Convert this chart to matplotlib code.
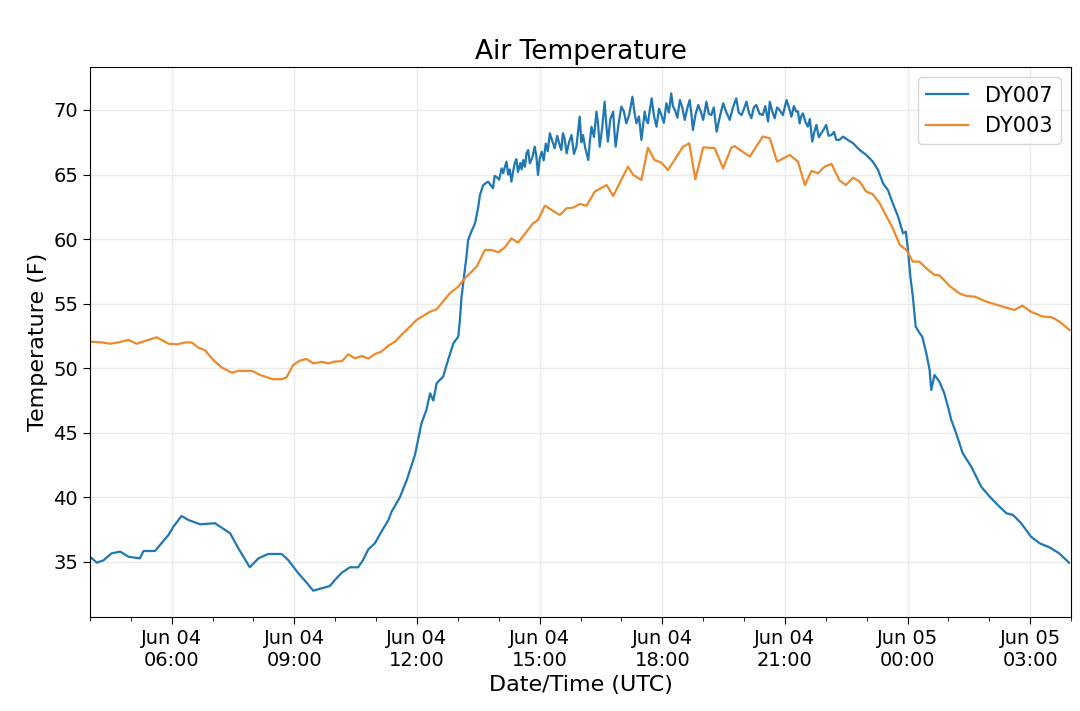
import matplotlib
matplotlib.use("Agg")
import matplotlib.pyplot as plt
import matplotlib.dates as mdates
import pandas as pd

# hours since Jun 04 00:00 UTC, temperature in F
dy007_hours = [
    4.00, 4.17, 4.33, 4.53, 4.74, 4.94, 5.22, 5.31, 5.59, 5.92, 6.04, 6.24,
    6.41, 6.69, 7.06, 7.43, 7.63, 7.91, 8.12, 8.36, 8.69, 8.85, 9.10, 9.30,
    9.46, 9.67, 9.87, 9.99, 10.16, 10.36, 10.56, 10.68, 10.81, 10.97, 11.13,
    11.30, 11.38, 11.58, 11.75, 11.95, 12.11, 12.23, 12.32, 12.40, 12.48,
    12.64, 12.76, 12.89, 13.01, 13.05, 13.09, 13.15, 13.21, 13.25, 13.33,
    13.42, 13.50, 13.54, 13.62, 13.74,
    13.86, 13.90, 13.95, 14.01, 14.07, 14.11, 14.15, 14.19, 14.23, 14.27,
    14.31, 14.35, 14.39, 14.43, 14.47, 14.53, 14.56, 14.60, 14.64, 14.68,
    14.72, 14.76, 14.82, 14.88, 14.92, 14.96, 15.00, 15.05, 15.10, 15.15,
    15.20, 15.25, 15.31, 15.37, 15.43, 15.49, 15.53, 15.57, 15.61, 15.66,
    15.72, 15.78, 15.84, 15.90, 15.94, 15.98, 16.02, 16.06, 16.12, 16.19,
    16.23, 16.27, 16.33, 16.39, 16.43, 16.47, 16.53, 16.59, 16.63, 16.67,
    16.73, 16.80, 16.83, 16.86, 16.93, 17.00, 17.06, 17.12, 17.19, 17.27,
    17.32, 17.37, 17.43, 17.49, 17.53, 17.57, 17.61, 17.65, 17.69, 17.74,
    17.80, 17.86, 17.92, 17.98, 18.04, 18.10, 18.16, 18.22, 18.26, 18.31,
    18.37, 18.43, 18.49, 18.55, 18.61, 18.67, 18.71, 18.75, 18.81, 18.88,
    18.94, 19.00, 19.04, 19.08, 19.14, 19.20, 19.26, 19.33, 19.41, 19.49,
    19.57, 19.65, 19.73, 19.81, 19.87, 19.94, 20.00, 20.06, 20.12, 20.18,
    20.24, 20.30, 20.38, 20.46, 20.52, 20.59, 20.63, 20.69, 20.75, 20.81,
    20.87, 20.95, 21.04, 21.10, 21.16, 21.22, 21.28, 21.32, 21.36, 21.40,
    21.44, 21.50, 21.56, 21.61, 21.67, 21.72, 21.77, 21.83, 21.89, 21.95,
    22.01, 22.07, 22.14, 22.20, 22.26, 22.34, 22.42,
    22.54, 22.67, 22.83, 22.99, 23.15, 23.28, 23.40, 23.52, 23.64, 23.77,
    23.89, 23.96, 24.01, 24.07, 24.13, 24.20, 24.30, 24.36, 24.46, 24.54,
    24.58, 24.66, 24.78, 24.90, 25.01, 25.07, 25.19, 25.35, 25.56, 25.80,
    26.01, 26.25, 26.42, 26.58, 26.78, 27.02, 27.23, 27.47, 27.71, 27.95,
]
dy007_temp = [
    35.41, 34.95, 35.13, 35.67, 35.80, 35.41, 35.28, 35.85, 35.85, 37.09,
    37.73, 38.56, 38.25, 37.92, 38.00, 37.22, 36.06, 34.59, 35.28, 35.62,
    35.62, 35.15, 34.12, 33.40, 32.78, 32.96, 33.14, 33.60, 34.17, 34.59,
    34.59, 35.15, 35.98, 36.45, 37.35, 38.25, 38.90, 40.00, 41.35, 43.29,
    45.74, 46.77, 48.06, 47.50, 48.84, 49.35, 50.64, 51.93, 52.45, 53.74,
    55.54, 57.09, 58.64, 59.93, 60.58, 61.22, 62.51, 63.42, 64.19, 64.45,
    63.94, 64.90, 64.80, 64.60, 65.48, 65.10, 65.60, 66.00, 65.00, 65.40,
    64.45, 65.20, 65.87, 66.20, 65.20, 65.90, 65.40, 66.13, 65.60, 66.64,
    66.90, 65.87, 66.30, 67.16, 66.40, 64.97, 66.20, 66.77, 66.10, 67.40,
    66.80, 68.20, 67.60, 67.03, 68.00, 67.30, 66.90, 68.20, 67.80, 66.64,
    67.50, 68.06, 66.60, 67.16, 68.30, 69.48, 67.50, 68.06, 67.00, 66.13,
    67.60, 68.70, 67.90, 69.87, 68.90, 67.16, 68.60, 70.64, 68.90, 67.55,
    69.30, 69.87, 68.30, 67.16, 68.90, 70.26, 69.90, 68.97, 69.60, 71.03,
    69.80, 68.97, 69.50, 67.68, 68.80, 69.87, 69.20, 68.97, 69.90, 70.90,
    69.50, 68.70, 70.10, 69.60, 69.00, 70.52, 69.80, 71.29, 70.30, 70.00,
    69.40, 70.77, 70.20, 69.23, 70.10, 70.77, 69.80, 68.45, 69.60, 70.39,
    69.90, 69.23, 69.90, 70.64, 69.70, 69.61, 70.20, 68.32, 69.50, 70.52,
    69.80, 69.23, 70.20, 70.90, 69.80, 69.60, 70.10, 70.64, 69.80, 69.36,
    70.20, 70.39, 69.70, 69.61, 70.30, 69.10, 70.64, 69.90, 69.36, 70.20,
    70.00, 69.60, 70.77, 70.20, 69.48, 70.30, 69.87, 69.90, 68.97, 69.50,
    69.74, 69.10, 68.71, 69.30, 67.55, 68.30, 68.84, 67.90, 68.20, 68.50,
    68.84, 68.00, 68.06, 68.30, 67.68, 67.70, 67.94,
    67.68, 67.42, 66.90, 66.52, 66.00, 65.35, 64.32, 63.80, 62.77, 61.74,
    60.45, 60.58, 59.16, 57.09, 55.54, 53.22, 52.70, 52.45, 51.16, 49.87,
    48.32, 49.48, 48.96, 48.06, 46.77, 46.00, 44.97, 43.42, 42.38, 40.84,
    40.06, 39.28, 38.77, 38.64, 38.00, 36.96, 36.45, 36.14, 35.67, 34.95,
]

dy003_hours = [
    4.00, 4.29, 4.49, 4.69, 4.94, 5.14, 5.63, 5.92, 6.12, 6.33, 6.49, 6.65,
    6.81, 7.02, 7.22, 7.47, 7.63, 7.96, 8.16, 8.48, 8.69, 8.81, 8.97, 9.14,
    9.30, 9.46, 9.67, 9.83, 9.99, 10.16, 10.32, 10.48, 10.65, 10.81, 10.97,
    11.13, 11.30, 11.46, 11.62, 11.99, 12.32, 12.48, 12.80, 13.01, 13.17,
    13.46, 13.66, 13.82, 13.99, 14.15, 14.31, 14.47, 14.84, 14.96, 15.13,
    15.49, 15.66, 15.82, 15.98, 16.15, 16.35, 16.64, 16.80, 17.16, 17.29,
    17.49, 17.65, 17.81, 17.98, 18.14, 18.51, 18.66, 18.81, 19.00, 19.28,
    19.49, 19.69, 19.77, 20.14, 20.46, 20.63, 20.81, 21.12, 21.32, 21.49,
    21.65, 21.81, 21.97, 22.14, 22.34, 22.49, 22.67, 22.83, 22.99, 23.15,
    23.32, 23.48, 23.64, 23.81, 23.97, 24.13, 24.29, 24.46, 24.66, 24.78,
    25.03, 25.27, 25.44, 25.64, 25.93, 26.33, 26.62, 26.81, 27.02, 27.31,
    27.52, 27.72, 27.96,
]
dy003_temp = [
    52.06, 52.00, 51.90, 52.00, 52.20, 51.90, 52.40, 51.90, 51.85, 52.00,
    52.00, 51.60, 51.40, 50.64, 50.07, 49.66, 49.80, 49.80, 49.48, 49.15,
    49.15, 49.30, 50.25, 50.60, 50.72, 50.38, 50.50, 50.38, 50.52, 50.55,
    51.08, 50.77, 50.95, 50.75, 51.10, 51.29, 51.75, 52.06, 52.58, 53.74,
    54.38, 54.56, 55.80, 56.32, 56.96, 57.87, 59.16, 59.16, 58.98, 59.37,
    60.06, 59.72, 61.22, 61.48, 62.59, 61.87, 62.39, 62.44, 62.72, 62.59,
    63.68, 64.19, 63.34, 65.61, 64.97, 64.58, 67.08, 66.13, 65.92, 65.35,
    67.16, 67.42, 64.63, 67.10, 67.05, 65.48, 67.10, 67.20, 66.39, 67.94,
    67.81, 66.00, 66.52, 66.00, 64.19, 65.28, 65.10, 65.61, 65.82, 64.53,
    64.19, 64.76, 64.45, 63.68, 63.48, 62.77, 61.79, 60.84, 59.55, 59.16,
    58.26, 58.26, 57.74, 57.22, 57.20, 56.37, 55.80, 55.60, 55.55, 55.16,
    54.77, 54.51, 54.85, 54.38, 54.00, 53.96, 53.61, 52.97,
]

start = pd.Timestamp("2019-06-04 00:00")
t007 = start + pd.to_timedelta(dy007_hours, unit="h")
t003 = start + pd.to_timedelta(dy003_hours, unit="h")

fig = plt.figure(figsize=(10.8, 7.11), dpi=100)
ax = fig.add_axes([0.0833, 0.1322, 0.9084, 0.7736])

ax.plot(t007, dy007_temp, color="#1f77b4", lw=1.6, label="DY007")
ax.plot(t003, dy003_temp, color="#ec8a2c", lw=1.6, label="DY003")

ax.set_xlim(start + pd.Timedelta(hours=4), start + pd.Timedelta(hours=28))
ax.set_ylim(30.74, 73.33)

ax.xaxis.set_major_locator(mdates.HourLocator(byhour=range(0, 24, 3)))
ax.xaxis.set_minor_locator(mdates.HourLocator())
ax.xaxis.set_major_formatter(mdates.DateFormatter("%b %d\n%H:%M"))
ax.set_yticks([35, 40, 45, 50, 55, 60, 65, 70])

ax.grid(True, which="major", color="0.92", lw=1)
ax.tick_params(axis="both", which="major", labelsize=14, length=5)
ax.tick_params(axis="x", which="minor", length=3)

ax.set_title("Air Temperature", fontsize=19)
ax.set_xlabel("Date/Time (UTC)", fontsize=16)
ax.set_ylabel("Temperature (F)", fontsize=16)
ax.legend(loc="upper right", fontsize=15)

fig.savefig("out.png", dpi=100)
